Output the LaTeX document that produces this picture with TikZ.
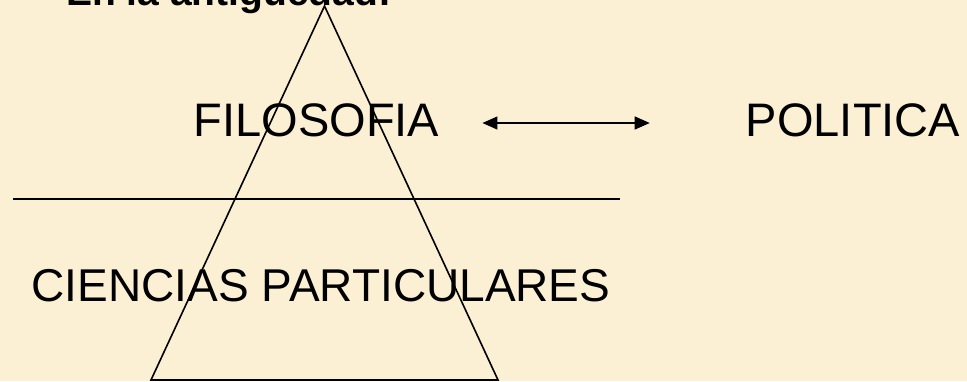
\documentclass[tikz,border=0pt]{standalone}
\usepackage{fontspec}
\setmainfont{Liberation Sans}
\definecolor{parchment}{RGB}{251,239,212}
\definecolor{ink}{RGB}{0,0,0}
\usetikzlibrary{arrows.meta,positioning}

\begin{document}
\begin{tikzpicture}[x=1pt,y=-1pt,
    term/.style={anchor=base, inner sep=0pt, text=ink, font=\fontsize{47}{50}\selectfont},
    link/.style={{Triangle[length=15pt,width=13pt]}-{Triangle[length=15pt,width=13pt]}, line width=1.3pt, ink}]
  \fill[parchment] (0,0) rectangle (967,381);
  \useasboundingbox (0,0) rectangle (967,381);
  % pyramid and dividing line
  \draw[ink, line width=1.6pt] (151,380) -- (324.5,6) -- (498,380) -- cycle;
  \draw[ink, line width=1.9pt] (13,199) -- (620,199);
  \node[anchor=base west, inner sep=0pt, text=ink, font=\fontsize{39}{42}\selectfont\bfseries]
    (titulo) at (66,5) {En la antigüedad:};
  \node[term] (filo) at (316.5,136) {FILOSOFIA};
  \node[term] (poli) at (853,136) {POLITICA};
  \node[term, font=\fontsize{46}{50}\selectfont] (cien) at (321,301) {CIENCIAS PARTICULARES};
  \draw[link] ([xshift=43pt,yshift=13pt]filo.base east) -- ([xshift=-96pt,yshift=13pt]poli.base west);
\end{tikzpicture}
\end{document}
